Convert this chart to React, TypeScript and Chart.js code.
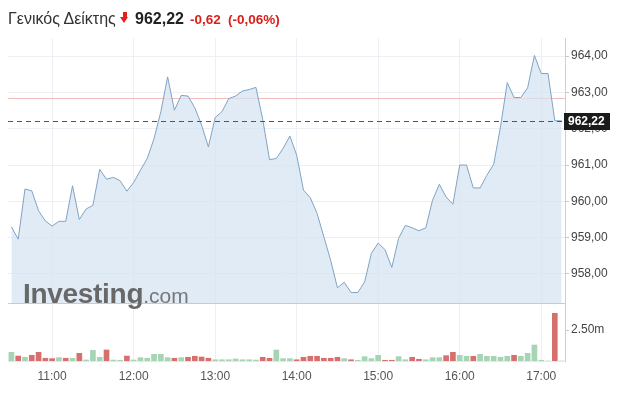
import React, { useEffect, useRef } from 'react';
import { Chart, registerables } from 'chart.js';

Chart.register(...registerables);

// 5-minute steps from 10:30 to 17:15
const prices = [
  959.30, 958.96, 960.34, 960.29, 959.74, 959.46, 959.32, 959.45, 959.45, 960.43,
  959.50, 959.79, 959.89, 960.88, 960.61, 960.66, 960.57, 960.28, 960.52, 960.86,
  961.18, 961.73, 962.47, 963.43, 962.51, 962.92, 962.90, 962.58, 962.10, 961.50,
  962.31, 962.47, 962.83, 962.90, 963.04, 963.08, 963.14, 962.26, 961.15, 961.18,
  961.46, 961.80, 961.27, 960.31, 960.10, 959.67, 959.02, 958.38, 957.62, 957.77,
  957.49, 957.49, 957.78, 958.57, 958.85, 958.67, 958.18, 958.98, 959.34, 959.27,
  959.19, 959.27, 960.03, 960.47, 960.12, 959.92, 961.00, 961.00, 960.37, 960.37,
  960.72, 961.02, 962.05, 963.27, 962.86, 962.86, 963.13, 964.02, 963.52, 963.52,
  962.22, 962.22,
];

// volume in millions
const volumes = [
  0.70, 0.40, 0.30, 0.46, 0.70, 0.22, 0.19, 0.27, 0.22, 0.22,
  0.62, 0.08, 0.86, 0.30, 0.89, 0.08, 0.06, 0.40, 0.08, 0.27,
  0.22, 0.54, 0.54, 0.27, 0.22, 0.27, 0.30, 0.38, 0.32, 0.22,
  0.10, 0.10, 0.10, 0.16, 0.10, 0.10, 0.08, 0.30, 0.22, 0.89,
  0.19, 0.19, 0.10, 0.30, 0.38, 0.38, 0.22, 0.22, 0.30, 0.19,
  0.10, 0.06, 0.35, 0.19, 0.46, 0.06, 0.06, 0.35, 0.10, 0.30,
  0.14, 0.10, 0.27, 0.27, 0.43, 0.70, 0.46, 0.38, 0.38, 0.54,
  0.38, 0.38, 0.30, 0.38, 0.46, 0.38, 0.62, 1.29, 0.06, 0,
  3.85, 0,
];

const volumeDir = [
  'u', 'd', 'u', 'd', 'd', 'd', 'd', 'u', 'd', 'u',
  'd', 'u', 'u', 'u', 'd', 'u', 'u', 'd', 'u', 'u',
  'u', 'u', 'u', 'u', 'd', 'u', 'd', 'd', 'd', 'd',
  'u', 'u', 'u', 'u', 'u', 'u', 'u', 'd', 'd', 'u',
  'u', 'u', 'd', 'd', 'd', 'd', 'd', 'd', 'd', 'u',
  'd', 'u', 'u', 'u', 'u', 'd', 'd', 'u', 'u', 'd',
  'd', 'u', 'u', 'u', 'd', 'd', 'u', 'u', 'd', 'u',
  'u', 'u', 'u', 'u', 'd', 'u', 'u', 'u', 'u', 'u',
  'd', 'u',
];

const timeTickIndex = [6, 18, 30, 42, 54, 66, 78];
const timeTickLabels = ['11:00', '12:00', '13:00', '14:00', '15:00', '16:00', '17:00'];
const priceTicks = [958, 959, 960, 961, 962, 963, 964];
const volumeTicks = [2.5];
const lastPrice = 962.22;
const prevClose = 962.84;

const FONT = '"Liberation Sans", Arial, sans-serif';
const fmtPrice = (v: number) => v.toFixed(2).replace('.', ',');

const overlayPlugin = {
  id: 'overlay',
  beforeDatasetsDraw(chart: any) {
    const { ctx, chartArea, scales } = chart;
    const y = scales.y;
    ctx.save();
    const yp = Math.round(y.getPixelForValue(prevClose)) + 0.5;
    ctx.strokeStyle = '#f2bcbc';
    ctx.lineWidth = 1;
    ctx.beginPath();
    ctx.moveTo(chartArea.left, yp);
    ctx.lineTo(chartArea.right, yp);
    ctx.stroke();
    ctx.restore();
  },
  afterDatasetsDraw(chart: any) {
    const { ctx, chartArea, scales } = chart;
    const y = scales.y;
    ctx.save();
    const ys = Math.round(y.bottom) + 0.5;
    ctx.strokeStyle = '#c7ccd2';
    ctx.lineWidth = 1;
    ctx.beginPath();
    ctx.moveTo(chartArea.left, ys);
    ctx.lineTo(chartArea.right, ys);
    ctx.stroke();
    const yl = Math.round(y.getPixelForValue(lastPrice)) + 0.5;
    ctx.strokeStyle = '#555';
    ctx.setLineDash([5, 4]);
    ctx.beginPath();
    ctx.moveTo(chartArea.left, yl);
    ctx.lineTo(chartArea.right, yl);
    ctx.stroke();
    ctx.restore();
  },
  afterDraw(chart: any) {
    const { ctx, chartArea, scales } = chart;
    const y = scales.y;
    const yl = y.getPixelForValue(lastPrice);
    ctx.save();
    ctx.fillStyle = '#1b1b1b';
    ctx.fillRect(chartArea.right - 1, Math.round(yl) - 8, 46, 17);
    ctx.fillStyle = '#ffffff';
    ctx.font = `bold 12px ${FONT}`;
    ctx.textBaseline = 'middle';
    ctx.textAlign = 'left';
    ctx.fillText(fmtPrice(lastPrice), chartArea.right + 3, Math.round(yl) + 0.5);
    ctx.restore();
  },
};

export default function App() {
  const ref = useRef<HTMLCanvasElement | null>(null);

  useEffect(() => {
    if (!ref.current) return;
    const chart = new Chart(ref.current, {
      type: 'line',
      data: {
        datasets: [
          {
            type: 'line',
            data: prices.map((p, i) => ({ x: i, y: p })),
            xAxisID: 'x',
            yAxisID: 'y',
            borderColor: '#7fa3c4',
            borderWidth: 1,
            backgroundColor: 'rgba(212, 227, 241, 0.72)',
            fill: 'start',
            pointRadius: 0,
            tension: 0,
          } as any,
          {
            type: 'bar',
            data: volumes.map((v, i) => ({ x: i, y: v })),
            xAxisID: 'x',
            yAxisID: 'v',
            backgroundColor: volumeDir.map((d) => (d === 'u' ? '#a6d4b5' : '#d6706f')),
            barThickness: 5,
          } as any,
        ],
      },
      options: {
        animation: false,
        responsive: false,
        layout: { padding: { left: 8, right: 8, top: 38, bottom: 0 } },
        plugins: { legend: { display: false }, tooltip: { enabled: false } },
        scales: {
          x: {
            type: 'linear',
            offset: false,
            min: -0.5,
            max: 81.5,
            afterBuildTicks: (s: any) => {
              s.ticks = timeTickIndex.map((v) => ({ value: v }));
            },
            afterFit: (s: any) => {
              s.height = 52;
            },
            ticks: {
              callback: (v: any) => timeTickLabels[timeTickIndex.indexOf(Number(v))] ?? '',
              color: '#555',
              font: { family: FONT, size: 12 },
              padding: 8,
              maxRotation: 0,
              autoSkip: false,
            },
            grid: { color: '#eceff3', drawTicks: false, offset: false },
            border: { display: true, color: '#e4e7eb' },
          },
          y: {
            type: 'linear',
            position: 'right',
            stack: 'main',
            stackWeight: 265,
            min: 957.2,
            max: 964.5,
            afterBuildTicks: (s: any) => {
              s.ticks = priceTicks.map((v) => ({ value: v }));
            },
            afterFit: (s: any) => {
              s.width = 50;
            },
            ticks: {
              callback: (v: any) => fmtPrice(Number(v)),
              color: '#444',
              font: { family: FONT, size: 12 },
              padding: 2,
            },
            grid: { color: '#eceff3', tickLength: 4, tickColor: '#c8c8c8' },
            border: { display: true, color: '#cfcfcf' },
          },
          v: {
            type: 'linear',
            position: 'right',
            stack: 'main',
            stackWeight: 58,
            min: 0,
            max: 4.68,
            afterBuildTicks: (s: any) => {
              s.ticks = volumeTicks.map((v) => ({ value: v }));
            },
            afterFit: (s: any) => {
              s.width = 50;
            },
            ticks: {
              callback: (v: any) => Number(v).toFixed(2) + 'm',
              color: '#444',
              font: { family: FONT, size: 12 },
              padding: 2,
            },
            grid: { drawOnChartArea: false, tickLength: 4, tickColor: '#c8c8c8' },
            border: { display: true, color: '#cfcfcf' },
          },
        } as any,
      },
      plugins: [overlayPlugin],
    });
    return () => chart.destroy();
  }, []);

  return (
    <div style={{ position: 'absolute', left: 0, top: 0, width: 623, height: 413, background: '#fff', fontFamily: FONT }}>
      <canvas ref={ref} width={623} height={413} style={{ position: 'absolute', left: 0, top: 0 }} />
      <div
        style={{
          position: 'absolute',
          left: 8,
          top: 9.5,
          display: 'flex',
          alignItems: 'baseline',
          lineHeight: '18px',
          whiteSpace: 'nowrap',
        }}
      >
        <span style={{ width: 112, fontSize: 16, color: '#333' }}>Γενικός Δείκτης</span>
        <span style={{ display: 'inline-block', position: 'relative', width: 15, height: 12 }}>
          <span style={{ position: 'absolute', left: 2.5, top: 0, width: 4, height: 6, background: '#e3211b' }} />
          <span
            style={{
              position: 'absolute',
              left: 0,
              top: 5,
              width: 0,
              height: 0,
              borderLeft: '4.5px solid transparent',
              borderRight: '4.5px solid transparent',
              borderTop: '6px solid #e3211b',
            }}
          />
        </span>
        <span style={{ width: 55, fontSize: 16, fontWeight: 'bold', color: '#222' }}>962,22</span>
        <span style={{ width: 38, fontSize: 13.5, fontWeight: 'bold', color: '#d9201a' }}>-0,62</span>
        <span style={{ fontSize: 13.5, fontWeight: 'bold', color: '#d9201a' }}>(-0,06%)</span>
      </div>
      <div
        style={{
          position: 'absolute',
          left: 23,
          top: 280,
          lineHeight: '28px',
          whiteSpace: 'nowrap',
          pointerEvents: 'none',
        }}
      >
        <span style={{ fontSize: 28, fontWeight: 'bold', color: '#686868', letterSpacing: -0.3 }}>Investing</span>
        <span style={{ fontSize: 21, color: '#777' }}>.com</span>
      </div>
    </div>
  );
}
